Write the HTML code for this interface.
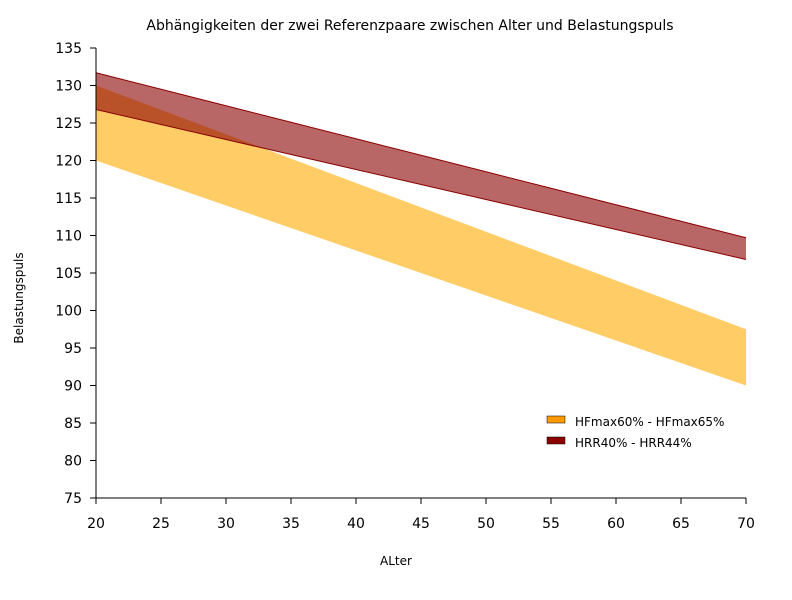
<!DOCTYPE html>
<html><head><meta charset="utf-8"><style>
body{margin:0;background:#fff}
svg text{font-family:"DejaVu Sans","Liberation Sans",sans-serif;fill:#000}
</style></head><body>
<svg id="chart" width="792" height="595" xmlns="http://www.w3.org/2000/svg">
<text x="410" y="30" text-anchor="middle" font-size="14">Abhängigkeiten der zwei Referenzpaare zwischen Alter und Belastungspuls</text>
<g id="bands"></g><g id="axes"></g>
<text x="396" y="565" text-anchor="middle" font-size="12">ALter</text>
<text transform="translate(23,298) rotate(-90)" text-anchor="middle" font-size="12">Belastungspuls</text>
<g>
<rect x="547" y="416" width="18" height="7" fill="#ff9900" stroke="#000" stroke-width="0.5"/>
<text x="575" y="426" font-size="12">HFmax60% - HFmax65%</text>
<rect x="547" y="437" width="18" height="7" fill="#8b0000" stroke="#000" stroke-width="0.5"/>
<text x="575" y="447" font-size="12">HRR40% - HRR44%</text>
</g>
</svg>
<script>
const ages=[20,25,30,35,40,45,50,55,60,65,70];
const hf60=[120,117,114,111,108,105,102,99,96,93,90];
const hf65=[130,126.75,123.5,120.25,117,113.75,110.5,107.25,104,100.75,97.5];
const hrr40=[126.8,124.8,122.8,120.8,118.8,116.8,114.8,112.8,110.8,108.8,106.8];
const hrr44=[131.7,129.5,127.3,125.1,122.9,120.7,118.5,116.3,114.1,111.9,109.7];
const yTicks=[75,80,85,90,95,100,105,110,115,120,125,130,135];
const NS="http://www.w3.org/2000/svg";
const X0=96,X1=746,Y0=498,Y1=48;
const xMin=20,xMax=70,yMin=75,yMax=135;
const sx=v=>X0+(v-xMin)/(xMax-xMin)*(X1-X0);
const sy=v=>Y0-(v-yMin)/(yMax-yMin)*(Y0-Y1);
function mk(tag,attrs,parent){const e=document.createElementNS(NS,tag);for(const k in attrs)e.setAttribute(k,attrs[k]);parent.appendChild(e);return e;}
const bands=document.getElementById('bands'),axes=document.getElementById('axes');
function band(lo,hi,fill,name,stroke){
 let d=ages.map((a,i)=>(i?'L':'M')+sx(a)+','+sy(hi[i])).join('');
 for(let i=ages.length-1;i>=0;i--)d+='L'+sx(ages[i])+','+sy(lo[i]);
 const p=mk('path',{d:d+'Z',fill:fill},bands);
 
 
 if(stroke){[lo,hi].forEach((s,j)=>{const l=mk('path',{d:ages.map((a,i)=>(i?'L':'M')+sx(a)+','+sy(s[i])).join(''),fill:'none',stroke:stroke,'stroke-width':1},bands);
 
 });}
}
band(hf60,hf65,'rgba(255,170,0,0.6)','band-hfmax',null);
band(hrr40,hrr44,'rgba(139,0,0,0.6)','band-hrr','#8b0000');
const xa=mk('line',{x1:X0,y1:Y0,x2:X1,y2:Y0,stroke:'#000'},axes);


const ya=mk('line',{x1:X0,y1:Y0,x2:X0,y2:Y1,stroke:'#000'},axes);


ages.forEach(a=>{mk('line',{x1:sx(a),y1:Y0,x2:sx(a),y2:Y0+6,stroke:'#000'},axes);
 const t=mk('text',{x:sx(a),y:Y0+30,'text-anchor':'middle','font-size':14},axes);t.textContent=a;
 
 });
yTicks.forEach(v=>{mk('line',{x1:X0-6,y1:sy(v),x2:X0,y2:sy(v),stroke:'#000'},axes);
 const t=mk('text',{x:X0-14,y:sy(v)+5,'text-anchor':'end','font-size':14},axes);t.textContent=v;
 
 });
</script>
</body></html>
